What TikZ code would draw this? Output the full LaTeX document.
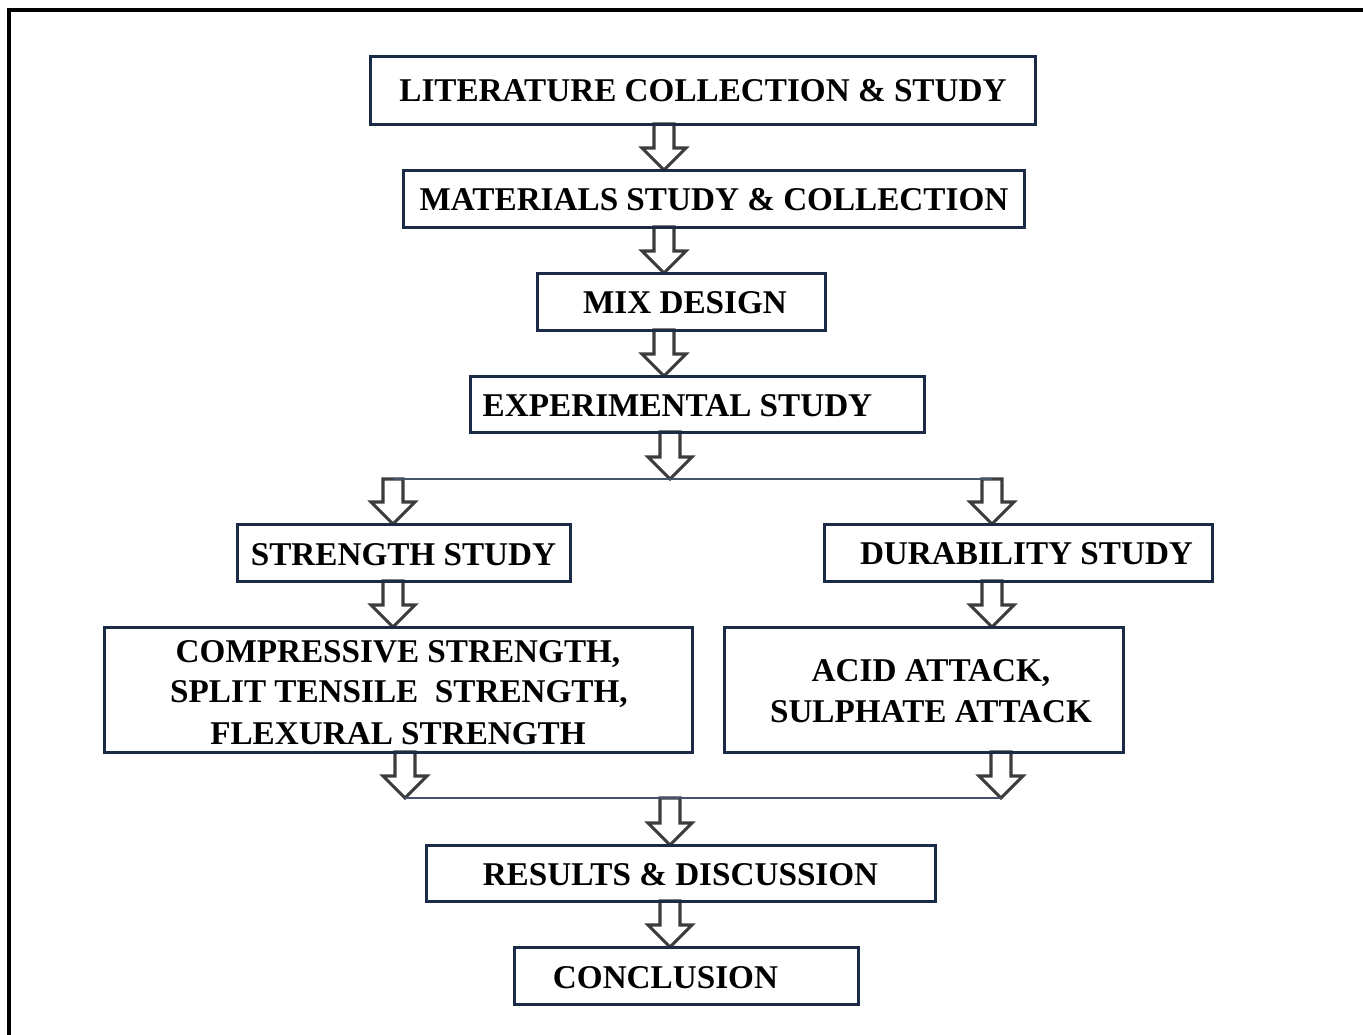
\documentclass[tikz,border=0pt]{standalone}
\usepackage{fontspec}
\setmainfont{Liberation Serif}
\usetikzlibrary{calc}
\definecolor{boxc}{HTML}{1B2A47}
\definecolor{arrc}{HTML}{3C3C3C}
\definecolor{linec}{HTML}{44546A}
\tikzset{
 box/.style={draw=boxc, line width=3pt, fill=white, inner sep=0pt, outer sep=0pt, rectangle},
 lbl/.style={font=\fontsize{33.2}{41}\selectfont\bfseries, text=black, inner sep=0pt, anchor=base},
 barr/.style={draw=arrc, line width=3.1pt, fill=white, line join=miter},
 conn/.style={draw=linec, line width=1.5pt},
 frame/.style={draw=black, line width=4pt}
}
\newcommand\barrow[3]{\draw[barr] let \p1=(#2), \p2=(#3) in (#1pt-10pt,\y1) -- (#1pt+10pt,\y1) -- (#1pt+10pt,\y2+22pt) -- (#1pt+22pt,\y2+22pt) -- (#1pt,\y2) -- (#1pt-22pt,\y2+22pt) -- (#1pt-10pt,\y2+22pt) -- cycle;}
\begin{document}
\begin{tikzpicture}[x=1pt,y=-1pt]
\useasboundingbox (0,0) rectangle (1363,1034);
\draw[frame] (9,1036) -- (9,10) -- (1365,10);
% box shapes (empty nodes, drawn later on top of arrows)
\path
 (702.5,90) node[box, minimum width=665, minimum height=68] (b1) {}
 (713.5,198.5) node[box, minimum width=621, minimum height=57] (b2) {}
 (681,301.5) node[box, minimum width=288, minimum height=57] (b3) {}
 (697,404) node[box, minimum width=454, minimum height=56] (b4) {}
 (403.5,552.5) node[box, minimum width=333, minimum height=57] (b5) {}
 (1018,552.5) node[box, minimum width=388, minimum height=57] (b6) {}
 (398,689.5) node[box, minimum width=588, minimum height=125] (b7) {}
 (923.5,689.5) node[box, minimum width=399, minimum height=125] (b8) {}
 (680.5,873) node[box, minimum width=509, minimum height=56] (b9) {}
 (686,975.5) node[box, minimum width=344, minimum height=57] (b10) {};
\coordinate (s1) at (670,479);
\coordinate (s1l) at (393,479);
\coordinate (s1r) at (992,479);
\coordinate (s2) at (670,798);
\coordinate (s2l) at (405,798);
\coordinate (s2r) at (1001,798);
% connectors
\barrow{664}{b1.south}{b2.north}
\barrow{664}{b2.south}{b3.north}
\barrow{664}{b3.south}{b4.north}
\barrow{670}{b4.south}{s1}
\barrow{393}{s1l}{b5.north}
\barrow{992}{s1r}{b6.north}
\barrow{393}{b5.south}{b7.north}
\barrow{992}{b6.south}{b8.north}
\barrow{405}{b7.south}{s2l}
\barrow{1001}{b8.south}{s2r}
\barrow{670}{s2}{b9.north}
\barrow{670}{b9.south}{b10.north}
\draw[conn] (s1l) -- (s1r);
\draw[conn] (s2l) -- (s2r);
% redraw box borders on top
\foreach \b in {b1,b2,b3,b4,b5,b6,b7,b8,b9,b10}
  \draw[draw=boxc, line width=3pt] (\b.south west) rectangle (\b.north east);
% labels
\node[lbl] (t1) at (703,101) {LITERATURE COLLECTION \& STUDY};
\node[lbl] (t2) at (714,210) {MATERIALS STUDY \& COLLECTION};
\node[lbl] (t3) at (685,313) {MIX DESIGN};
\node[lbl] (t4) at (677.5,416) {EXPERIMENTAL STUDY};
\node[lbl] (t5) at (403.5,565) {STRENGTH STUDY};
\node[lbl] (t6) at (1026.5,564) {DURABILITY STUDY};
\node[lbl] (t7a) at (398,662) {COMPRESSIVE STRENGTH,};
\node[lbl] (t7b) at (399,702) {SPLIT TENSILE\ \ STRENGTH,};
\node[lbl] (t7c) at (398,744) {FLEXURAL STRENGTH};
\node[lbl] (t8a) at (931,681) {ACID ATTACK,};
\node[lbl] (t8b) at (931,722) {SULPHATE ATTACK};
\node[lbl] (t9) at (680.5,885) {RESULTS \& DISCUSSION};
\node[lbl] (t10) at (665.5,988) {CONCLUSION};
\end{tikzpicture}
\end{document}
